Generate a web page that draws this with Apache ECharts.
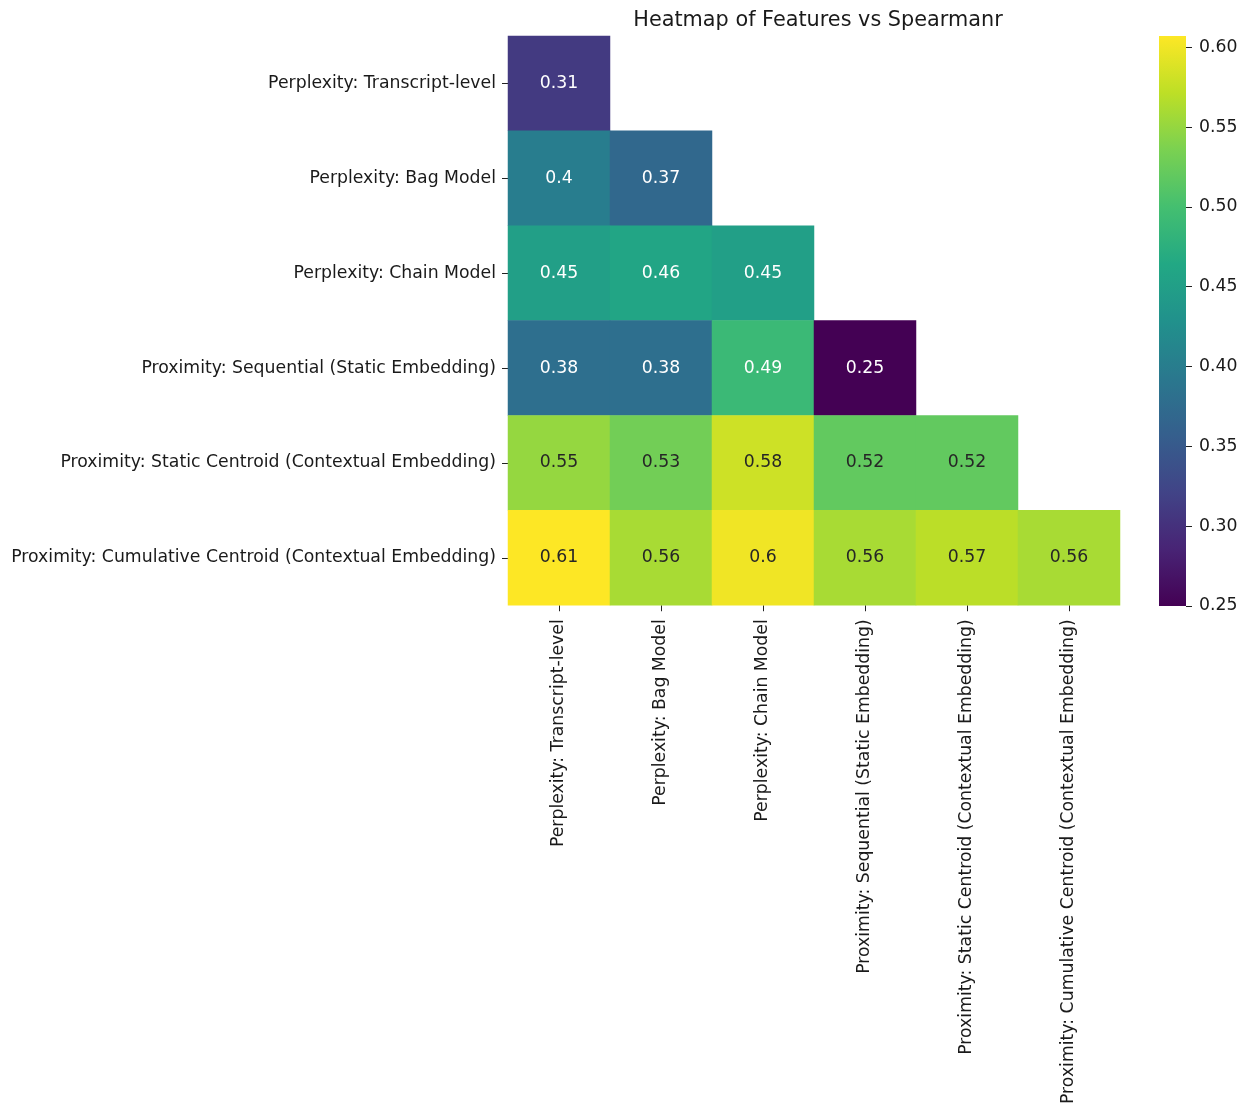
<!DOCTYPE html>
<html>
<head>
<meta charset="utf-8">
<script src="https://cdn.jsdelivr.net/npm/echarts@6/dist/echarts.min.js"></script>
<style>
  html, body { margin: 0; padding: 0; background: #fff; }
  #chart { width: 1252px; height: 1107px; }
</style>
</head>
<body>
<div id="chart"></div>
<script>
// Feature names (rows top to bottom, columns left to right)
const features = [
  'Perplexity: Transcript-level',
  'Perplexity: Bag Model',
  'Perplexity: Chain Model',
  'Proximity: Sequential (Static Embedding)',
  'Proximity: Static Centroid (Contextual Embedding)',
  'Proximity: Cumulative Centroid (Contextual Embedding)'
];

// Lower-triangle Spearman correlations, one row per feature
const row0 = [0.31];
const row1 = [0.40, 0.37];
const row2 = [0.45, 0.46, 0.45];
const row3 = [0.38, 0.38, 0.49, 0.25];
const row4 = [0.55, 0.53, 0.58, 0.52, 0.52];
const row5 = [0.607, 0.56, 0.60, 0.56, 0.57, 0.56];
const rows = [row0, row1, row2, row3, row4, row5];

// Colour scale range and colour-bar ticks
const scaleMin = 0.25;
const scaleMax = 0.607;
const tickMin = 0.25;
const tickMax = 0.60;
const tickStep = 0.05;

// viridis palette
const viridis = ['#440154', '#482475', '#414487', '#355f8d', '#2a788e',
  '#21918c', '#22a884', '#44bf70', '#7ad151', '#bddf26', '#fde725'];

const FONT = 'DejaVu Sans';
const FS = 17.3;
const TEXT = '#1a1a1a';

// Compact number format like "%.2g"
function fmt(v) { return String(parseFloat(v.toFixed(2))); }

const cells = [];
rows.forEach((r, i) => {
  r.forEach((v, j) => {
    cells.push({
      value: [j, i, v],
      label: { color: v < 0.5 ? '#ffffff' : '#262626' }
    });
  });
});

// Colour bar geometry; the tick axis spans tickMin..tickMax inside it
const bar = { left: 1159, top: 36, width: 27, height: 570 };
const pxPerUnit = bar.height / (scaleMax - scaleMin);
const axisTop = bar.top + (scaleMax - tickMax) * pxPerUnit;
const axisHeight = (tickMax - tickMin) * pxPerUnit;

const chart = echarts.init(document.getElementById('chart'), null, { renderer: 'canvas' });

chart.setOption({
  backgroundColor: '#ffffff',
  animation: false,
  textStyle: { fontFamily: FONT },
  title: {
    text: 'Heatmap of Features vs Spearmanr',
    left: 813,
    top: 5,
    textAlign: 'center',
    textStyle: { fontFamily: FONT, fontSize: 20.8, fontWeight: 'normal', color: TEXT }
  },
  grid: [
    { left: 508, top: 36, width: 612, height: 570, containLabel: false },
    { left: bar.left, top: axisTop, width: bar.width, height: axisHeight, containLabel: false }
  ],
  xAxis: [
    {
      type: 'category',
      gridIndex: 0,
      data: features,
      position: 'bottom',
      axisLine: { show: false },
      axisTick: { show: true, alignWithLabel: true, length: 6, lineStyle: { color: '#222', width: 1 } },
      axisLabel: { rotate: 90, interval: 0, fontFamily: FONT, fontSize: FS, color: TEXT, margin: 14 },
      splitLine: { show: false }
    },
    { type: 'category', gridIndex: 1, show: false, data: [''] }
  ],
  yAxis: [
    {
      type: 'category',
      gridIndex: 0,
      data: features,
      inverse: true,
      axisLine: { show: false },
      axisTick: { show: true, alignWithLabel: true, length: 6, lineStyle: { color: '#222', width: 1 } },
      axisLabel: { interval: 0, fontFamily: FONT, fontSize: FS, color: TEXT, margin: 12 },
      splitLine: { show: false }
    },
    {
      type: 'value',
      gridIndex: 1,
      position: 'right',
      min: tickMin,
      max: tickMax,
      interval: tickStep,
      axisLine: { show: false, onZero: false },
      axisTick: { show: true, inside: false, length: 6, lineStyle: { color: '#222', width: 1 } },
      axisLabel: {
        fontFamily: FONT, fontSize: FS, color: TEXT, margin: 13,
        formatter: v => v.toFixed(2)
      },
      splitLine: { show: false }
    }
  ],
  visualMap: {
    type: 'continuous',
    seriesIndex: 0,
    min: scaleMin,
    max: scaleMax,
    show: false,
    inRange: { color: viridis }
  },
  graphic: [
    {
      type: 'rect',
      z: -1,
      shape: { x: bar.left, y: bar.top, width: bar.width, height: bar.height },
      style: {
        fill: new echarts.graphic.LinearGradient(0, 1, 0, 0,
          viridis.map((c, k) => ({ offset: k / (viridis.length - 1), color: c })))
      }
    }
  ],
  series: [
    {
      type: 'heatmap',
      xAxisIndex: 0,
      yAxisIndex: 0,
      data: cells,
      itemStyle: { borderWidth: 0 },
      label: {
        show: true,
        fontFamily: FONT,
        fontSize: FS,
        formatter: p => fmt(p.value[2])
      },
      emphasis: { disabled: true }
    }
  ]
});
</script>
</body>
</html>
